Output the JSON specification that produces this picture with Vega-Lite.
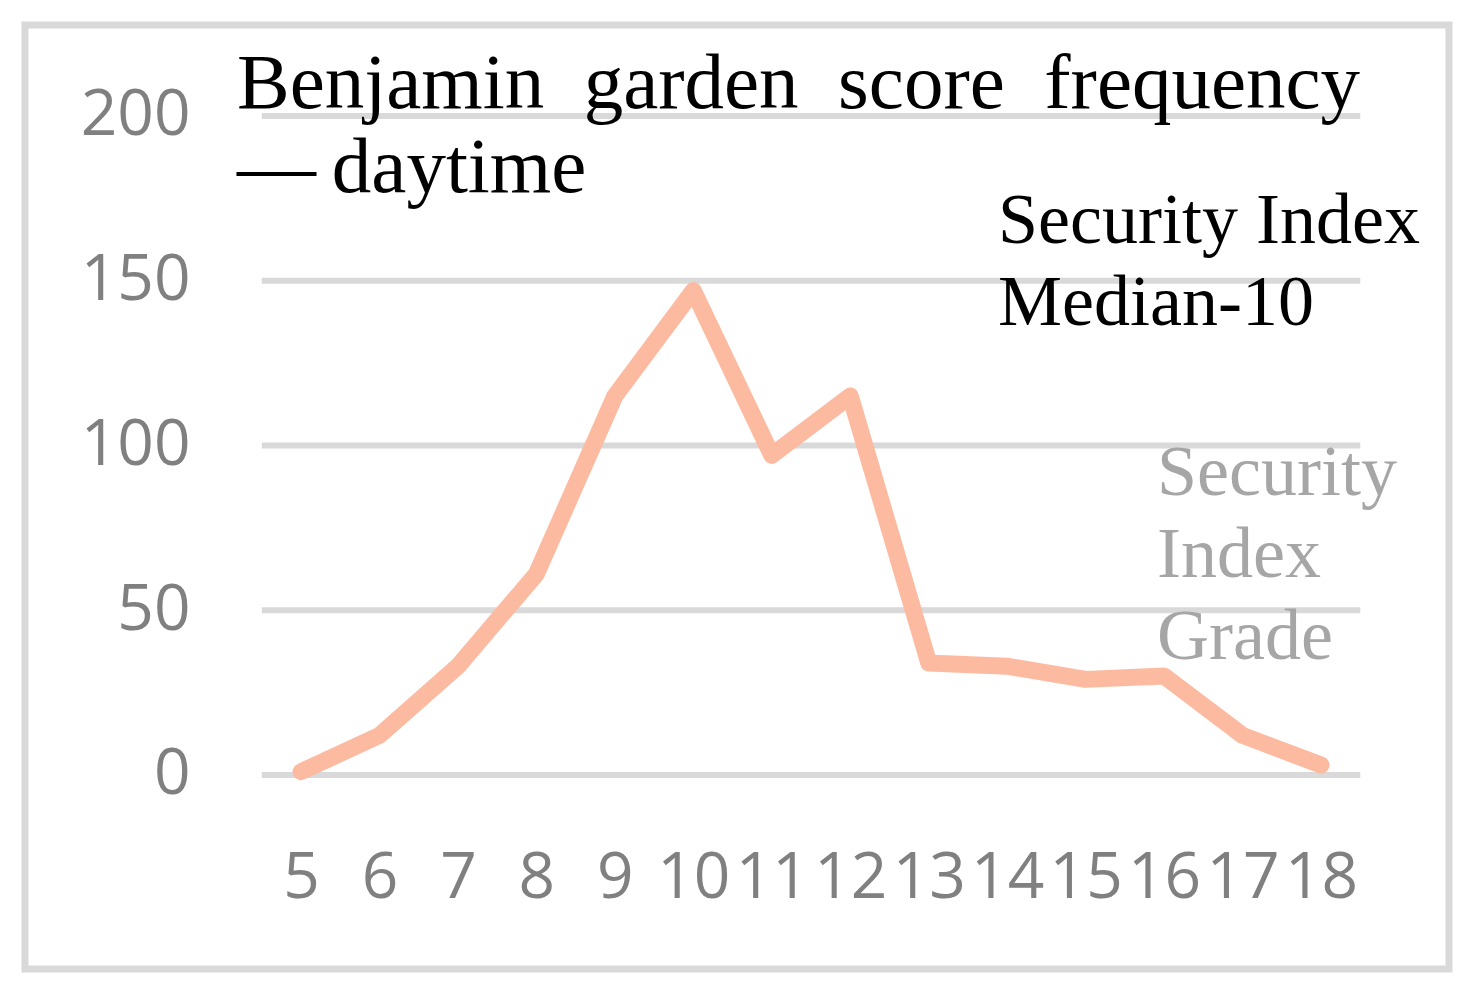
{
  "$schema": "https://vega.github.io/schema/vega-lite/v6.json",
  "width": 1424,
  "height": 944,
  "autosize": {"type": "none"},
  "padding": {"left": 25, "top": 25, "right": 18, "bottom": 26},
  "background": "white",
  "config": {
    "view": {"stroke": "#d9d9d9", "strokeWidth": 7},
    "axis": {
      "title": null, "domain": false, "ticks": false, "tickSize": 0, "grid": false,
      "labelPadding": 0, "labelFont": "Open Sans", "labelFontSize": 64, "labelColor": "#808080",
      "labelOverlap": false, "labelFlush": false, "labelBound": false
    }
  },
  "datasets": {
    "freq": [
      {"score": 5, "count": 1},
      {"score": 6, "count": 12},
      {"score": 7, "count": 33},
      {"score": 8, "count": 61},
      {"score": 9, "count": 115},
      {"score": 10, "count": 147},
      {"score": 11, "count": 97},
      {"score": 12, "count": 115},
      {"score": 13, "count": 34},
      {"score": 14, "count": 33},
      {"score": 15, "count": 29},
      {"score": 16, "count": 30},
      {"score": 17, "count": 12},
      {"score": 18, "count": 3}
    ],
    "grid": [{"g": 0}, {"g": 50}, {"g": 100}, {"g": 150}, {"g": 200}]
  },
  "layer": [
    {
      "data": {"name": "grid"},
      "mark": {"type": "rule", "color": "#d9d9d9", "strokeWidth": 6},
      "encoding": {
        "y": {"field": "g", "type": "quantitative", "scale": {"domain": [-58.9, 227.6], "nice": false, "zero": false},
          "axis": {"values": [0, 50, 100, 150, 200], "offset": -165, "title": null}},
        "x": {"datum": 4.5, "type": "quantitative", "scale": {"domain": [1.482, 19.631], "nice": false, "zero": false},
          "axis": {"values": [5, 6, 7, 8, 9, 10, 11, 12, 13, 14, 15, 16, 17, 18], "format": "d", "offset": -72, "labelBaseline": "alphabetic", "title": null}},
        "x2": {"datum": 18.5}
      }
    },
    {
      "data": {"name": "freq"},
      "mark": {"type": "line", "color": "#fcbba1", "strokeWidth": 17, "strokeCap": "round", "strokeJoin": "round"},
      "encoding": {
        "x": {"field": "score", "type": "quantitative", "scale": {"domain": [1.482, 19.631], "nice": false, "zero": false},
          "axis": {"values": [5, 6, 7, 8, 9, 10, 11, 12, 13, 14, 15, 16, 17, 18], "format": "d", "offset": -72, "labelBaseline": "alphabetic", "title": null}},
        "y": {"field": "count", "type": "quantitative", "scale": {"domain": [-58.9, 227.6], "nice": false, "zero": false},
          "axis": {"values": [0, 50, 100, 150, 200], "offset": -165, "title": null}}
      }
    },
    {
      "data": {"values": [{"note": "Benjamin\u2002garden\u2002score\u2002frequency\n—\u2009daytime"}]},
      "mark": {"type": "text", "align": "left", "baseline": "alphabetic", "lineBreak": "\n", "lineHeight": 84, "font": "Liberation Serif", "fontSize": 79, "color": "#000000"},
      "encoding": {
        "x": {"datum": 4.184, "type": "quantitative"},
        "y": {"datum": 202.4, "type": "quantitative"},
        "text": {"field": "note"}
      }
    },
    {
      "data": {"values": [{"note": "Security Index\nMedian-10"}]},
      "mark": {"type": "text", "align": "left", "baseline": "alphabetic", "lineBreak": "\n", "lineHeight": 82, "font": "Liberation Serif", "fontSize": 72, "color": "#000000"},
      "encoding": {
        "x": {"datum": 13.883, "type": "quantitative"},
        "y": {"datum": 161.5, "type": "quantitative"},
        "text": {"field": "note"}
      }
    },
    {
      "data": {"values": [{"note": "Security\nIndex\nGrade"}]},
      "mark": {"type": "text", "align": "left", "baseline": "alphabetic", "lineBreak": "\n", "lineHeight": 82, "font": "Liberation Serif", "fontSize": 72, "color": "#a6a6a6"},
      "encoding": {
        "x": {"datum": 15.91, "type": "quantitative"},
        "y": {"datum": 85, "type": "quantitative"},
        "text": {"field": "note"}
      }
    }
  ]
}
